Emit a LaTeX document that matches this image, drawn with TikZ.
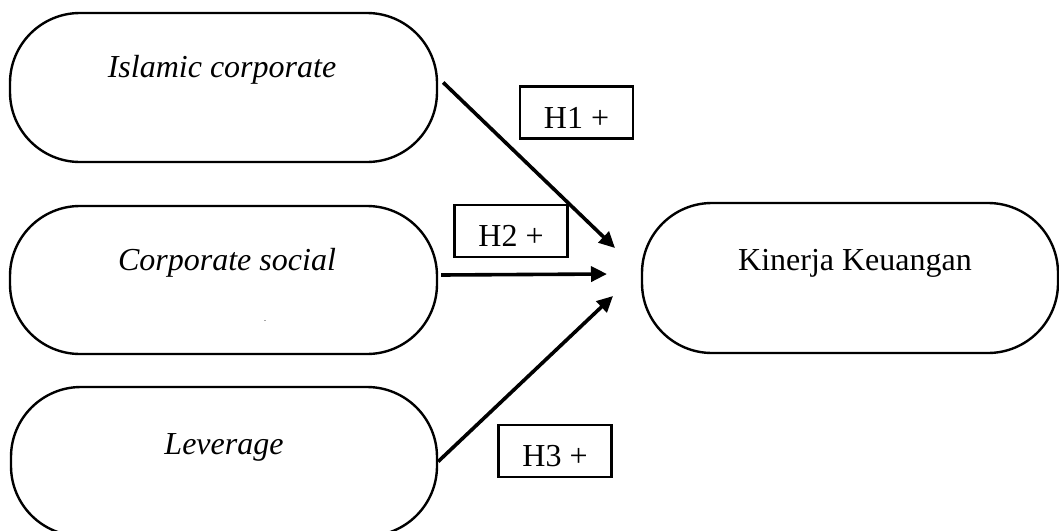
\documentclass[tikz,border=0pt]{standalone}
\usepackage{fontspec}
\setmainfont{Liberation Serif}
\usetikzlibrary{arrows.meta}
\begin{document}
\begin{tikzpicture}[x=1pt,y=-1pt,
  pill/.style={draw=black,line width=2.4pt,rounded corners=70pt,inner sep=0pt},
  txt/.style={anchor=base,inner sep=0pt,font=\fontsize{32}{38}\selectfont},
  hbox/.style={draw=black,line width=2.4pt,inner sep=0pt,minimum width=113pt,minimum height=52pt,text height=31pt,text depth=0pt,font=\fontsize{32}{38}\selectfont},
  arr/.style={line width=3.6pt,-{Triangle[length=16pt,width=15pt]}}]
\useasboundingbox[fill=white] (0,0) rectangle (1059,530);
% outer boxes
\node[pill,minimum width=427pt,minimum height=149pt] (ic) at (223.5,87.5) {};
\node[pill,minimum width=427pt,minimum height=148pt] (cs) at (223.5,280) {};
\node[pill,minimum width=426pt,minimum height=149pt] (lev) at (224,461.5) {};
\node[pill,minimum width=416pt,minimum height=150pt] (kk) at (850,278) {};
% texts
\node[txt] (ict) at (222,77) {\itshape Islamic corporate};
\node[txt] (cst) at (227,270) {\itshape Corporate social};
\node[txt] (levt) at (224,454) {\itshape Leverage};
\node[txt] (kkt) at (855,270) {Kinerja Keuangan};
\node[inner sep=0pt,font=\fontsize{6}{6}\selectfont] (dot) at (265,322) {-};
% hypothesis labels
\node[hbox] (h1) at (576.5,112.5) {H1 +};
\node[hbox] (h2) at (511,231) {H2 +};
\node[hbox] (h3) at (555,451) {H3 +};
% arrow ends
\coordinate (e1) at (615,248);
\coordinate (e2) at (607,274);
\coordinate (e3) at (613,296);
\draw[arr] ([xshift=5pt,yshift=5pt]ic.east) -- (e1);
\draw[arr] ([xshift=3pt,yshift=5pt]cs.east) -- (e2);
\draw[arr] (lev.east) -- (e3);
\end{tikzpicture}
\end{document}
